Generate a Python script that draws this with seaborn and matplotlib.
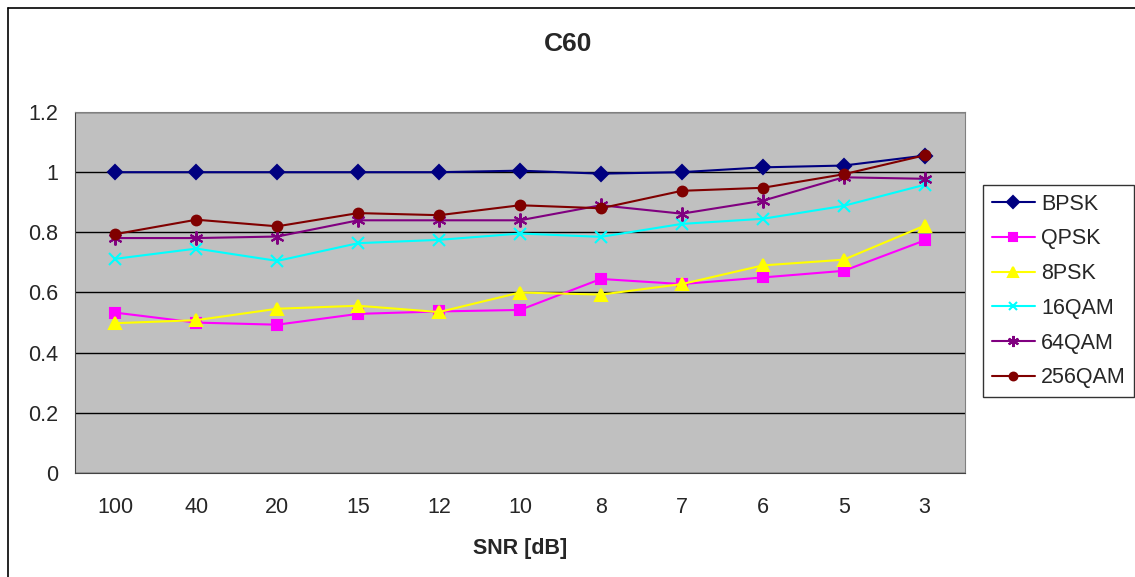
import pandas as pd
import numpy as np
import matplotlib
matplotlib.use('Agg')
import matplotlib.pyplot as plt
from matplotlib.lines import Line2D
import seaborn as sns

snr_labels = ['100', '40', '20', '15', '12', '10', '8', '7', '6', '5', '3']

bpsk = [1.0, 1.0, 1.0, 1.0, 1.0, 1.005, 0.995, 1.0, 1.016, 1.022, 1.055]
qpsk = [0.533, 0.50, 0.493, 0.529, 0.537, 0.542, 0.645, 0.628, 0.65, 0.672, 0.773]
psk8 = [0.498, 0.508, 0.546, 0.556, 0.535, 0.60, 0.593, 0.628, 0.69, 0.709, 0.822]
qam16 = [0.712, 0.746, 0.705, 0.764, 0.775, 0.796, 0.785, 0.828, 0.845, 0.888, 0.958]
qam64 = [0.781, 0.781, 0.786, 0.84, 0.84, 0.84, 0.89, 0.862, 0.905, 0.983, 0.978]
qam256 = [0.794, 0.842, 0.82, 0.864, 0.857, 0.89, 0.88, 0.938, 0.948, 0.993, 1.056]

series_names = ['BPSK', 'QPSK', '8PSK', '16QAM', '64QAM', '256QAM']
series_vals = [bpsk, qpsk, psk8, qam16, qam64, qam256]
colors = ['#000080', '#FF00FF', '#FFFF00', '#00FFFF', '#800080', '#800000']
markers = ['D', 's', '^', 'x', (6, 2, 0), 'o']
msizes = [7.5, 7, 8.5, 8, 10, 7]

rows = []
for name, vals in zip(series_names, series_vals):
    for lab, v in zip(snr_labels, vals):
        rows.append({'SNR': lab, 'value': v, 'series': name})
df = pd.DataFrame(rows)

sns.set_style('white')
plt.rcParams['font.family'] = ['Liberation Sans', 'DejaVu Sans']

fig = plt.figure(figsize=(11.35, 5.77), dpi=100)
ax = fig.add_axes([75 / 1135, 1 - 473 / 577, 890 / 1135, 361 / 577])
ax.set_facecolor('#C0C0C0')

for name, col, mk, ms in zip(series_names, colors, markers, msizes):
    sub = df[df['series'] == name]
    sns.lineplot(data=sub, x='SNR', y='value', ax=ax, color=col, marker=mk,
                 markersize=ms, markeredgecolor=col, markerfacecolor=col,
                 markeredgewidth=1.5, linewidth=1.5, label=name, sort=False)

ax.set_ylim(0, 1.2)
ax.set_yticks(np.arange(0, 1.21, 0.2))
ax.set_yticklabels(['0', '0.2', '0.4', '0.6', '0.8', '1', '1.2'])
ax.set_xlim(-0.5, len(snr_labels) - 0.5)
ax.set_xticks(range(len(snr_labels)))
ax.set_xticklabels(snr_labels)
ax.set_xticks(np.arange(-0.5, len(snr_labels), 1.0), minor=True)
ax.tick_params(axis='x', which='major', length=0, labelsize=15.5, pad=17)
ax.tick_params(axis='x', which='minor', length=5, width=1, color='#444444', direction='out')
ax.tick_params(axis='y', which='major', length=5, width=1, color='#444444', direction='out',
               labelsize=15.5, pad=7)
ax.grid(axis='y', color='black', linewidth=1)
ax.set_axisbelow(True)
for side in ['top', 'right']:
    ax.spines[side].set_color('#808080')
for side in ['left', 'bottom']:
    ax.spines[side].set_color('#444444')
ax.set_ylabel('')
ax.set_xlabel('SNR [dB]', fontsize=15.5, fontweight='bold', labelpad=15)

fig.text(568 / 1135, 1 - 44 / 577, 'C60', ha='center', va='center',
         fontsize=19, fontweight='bold')

leg = ax.legend(loc='upper left', bbox_to_anchor=(983 / 1135, 1 - 185 / 577),
                bbox_transform=fig.transFigure, frameon=True, fancybox=False,
                edgecolor='black', fontsize=15.5, labelspacing=0.64,
                handlelength=2.0, handletextpad=0.3, borderpad=0.4,
                borderaxespad=0, markerscale=0.8)
leg.get_frame().set_linewidth(1)

# outer chart border (only top and left are inside the image)
bx, by = 7.5 / 1135, 1 - 7.5 / 577
fig.add_artist(Line2D([bx, 1], [by, by], transform=fig.transFigure, color='black', linewidth=1.2))
fig.add_artist(Line2D([bx, bx], [0, by], transform=fig.transFigure, color='black', linewidth=1.2))

fig.savefig('out.png', dpi=100)
